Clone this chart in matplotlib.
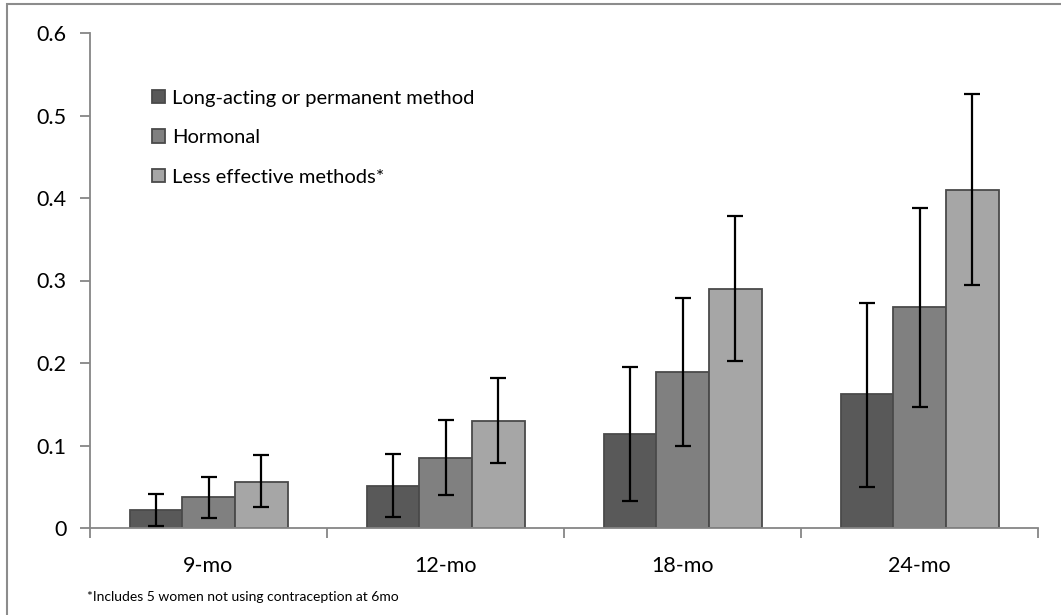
# Probability of pregnancy by contraceptive type, grouped bars with error bars

import numpy as np
import matplotlib.pyplot as plt
from matplotlib.patches import Rectangle

plt.rcParams['font.family'] = ['Lato', 'DejaVu Sans']

# data
periods = ["9-mo", "12-mo", "18-mo", "24-mo"]
methods = ["Long-acting or permanent method", "Hormonal", "Less effective methods*"]

larc = [0.022, 0.051, 0.114, 0.162]
larc_lo = [0.003, 0.013, 0.033, 0.050]
larc_hi = [0.041, 0.090, 0.195, 0.273]

hormonal = [0.037, 0.085, 0.189, 0.268]
hormonal_lo = [0.012, 0.040, 0.100, 0.147]
hormonal_hi = [0.062, 0.131, 0.279, 0.388]

less_eff = [0.056, 0.130, 0.290, 0.410]
less_eff_lo = [0.025, 0.079, 0.202, 0.294]
less_eff_hi = [0.088, 0.182, 0.378, 0.526]

colors = ["#595959", "#808080", "#a6a6a6"]
edge = "#4a4a4a"
axis_col = "#868686"

W, H = 1061, 615
fig = plt.figure(figsize=(W / 100, H / 100), dpi=100)
ax = fig.add_axes([90 / W, (H - 528) / H, (1038 - 90) / W, (528 - 33) / H])

# outer chart border (cropped on right/bottom)
fig.add_artist(Rectangle((7 / W, -0.2), 2, 1.2 - 4 / H, transform=fig.transFigure,
                         fill=False, edgecolor="#8c8c8c", linewidth=1.5))

x = np.arange(len(periods))
bw = 1 / 4.5
series = [(larc, larc_lo, larc_hi), (hormonal, hormonal_lo, hormonal_hi),
          (less_eff, less_eff_lo, less_eff_hi)]

for i, (vals, lo, hi) in enumerate(series):
    vals = np.array(vals)
    pos = x + (i - 1) * bw
    ax.bar(pos, vals, width=bw, color=colors[i], edgecolor=edge, linewidth=1.3,
           label=methods[i], zorder=2)
    yerr = [vals - np.array(lo), np.array(hi) - vals]
    ax.errorbar(pos, vals, yerr=yerr, fmt="none", ecolor="black", elinewidth=1.6,
                capsize=6, capthick=1.6, zorder=3)

ax.set_xlim(-0.5, len(periods) - 0.5)
ax.set_ylim(0, 0.6)
ax.set_yticks([0, 0.1, 0.2, 0.3, 0.4, 0.5, 0.6])
ax.set_yticklabels(["0", "0.1", "0.2", "0.3", "0.4", "0.5", "0.6"], fontsize=15.5)

ax.set_xticks(np.arange(len(periods) + 1) - 0.5)
ax.set_xticklabels([])
ax.set_xticks(x, minor=True)
ax.set_xticklabels(periods, minor=True, fontsize=15.5)
ax.tick_params(axis="x", which="minor", length=0, pad=20)
ax.tick_params(axis="x", which="major", length=7, width=1.3, color=axis_col)
ax.tick_params(axis="y", length=7, width=1.3, color=axis_col, pad=10)

for s in ["top", "right"]:
    ax.spines[s].set_visible(False)
for s in ["left", "bottom"]:
    ax.spines[s].set_color(axis_col)
    ax.spines[s].set_linewidth(1.3)

ax.legend(loc="upper left", bbox_to_anchor=(0.057, 0.902), frameon=False,
          fontsize=14.5, handlelength=0.65, handleheight=0.65, handletextpad=0.35,
          labelspacing=1.12, borderaxespad=0)

fig.text(87 / W, 1 - 597 / H, "*Includes 5 women not using contraception at 6mo",
         fontsize=10, va="center", ha="left")

fig.savefig("out.png", dpi=100)
